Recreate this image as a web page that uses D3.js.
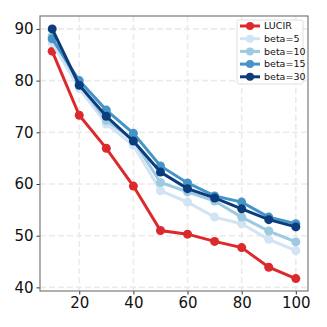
<!DOCTYPE html>
<html>
<head>
<meta charset="utf-8">
<script src="https://cdn.jsdelivr.net/npm/d3@7"></script>
<style>
  body { margin: 0; background: #fff; }
  .tick text { font-family: "DejaVu Sans", sans-serif; }
</style>
</head>
<body>
<div class="chart"></div>
<script>
// data
var steps = [10, 20, 30, 40, 50, 60, 70, 80, 90, 100];
var lucir  = [85.7, 73.3, 66.9, 59.6, 51.0, 50.3, 48.9, 47.7, 43.9, 41.7];
var beta5  = [87.3, 78.5, 71.6, 67.5, 58.7, 56.5, 53.6, 52.3, 49.3, 47.1];
var beta10 = [88.6, 79.3, 72.3, 68.5, 60.3, 58.5, 56.7, 53.6, 50.9, 48.8];
var beta15 = [88.1, 80.0, 74.3, 69.8, 63.5, 60.2, 57.7, 56.5, 53.6, 52.3];
var beta30 = [90.0, 79.1, 73.1, 68.3, 62.3, 59.1, 57.3, 55.2, 53.1, 51.7];
var seriesNames = ["LUCIR", "beta=5", "beta=10", "beta=15", "beta=30"];
var seriesColors = ["#dc2a2c", "#d2e3f3", "#9ccae1", "#4594c8", "#0b3c7c"];
var xTicks = [20, 40, 60, 80, 100];
var yTicks = [40, 50, 60, 70, 80, 90];

var svgWidth = 327, svgHeight = 327;
var margin = {top: 16, right: 19, bottom: 36, left: 40};
var width = svgWidth - margin.left - margin.right;
var height = svgHeight - margin.top - margin.bottom;

var svg = d3.select(".chart").append("svg")
  .attr("width", svgWidth)
  .attr("height", svgHeight);

var chartGroup = svg.append("g")
  .attr("transform", `translate(${margin.left}, ${margin.top})`);

var x = d3.scaleLinear().domain([5.5, 104.5]).range([0, width]);
var y = d3.scaleLinear().domain([39.3, 92.5]).range([height, 0]);

// grid
chartGroup.append("g").selectAll("line").data(xTicks).enter().append("line")
  .attr("x1", d => x(d)).attr("x2", d => x(d))
  .attr("y1", 0).attr("y2", height)
  .attr("stroke", "#ebebeb").attr("stroke-width", 1.6)
  .attr("stroke-dasharray", "6,3");
chartGroup.append("g").selectAll("line").data(yTicks).enter().append("line")
  .attr("y1", d => y(d)).attr("y2", d => y(d))
  .attr("x1", 0).attr("x2", width)
  .attr("stroke", "#ebebeb").attr("stroke-width", 1.6)
  .attr("stroke-dasharray", "6,3");

// axes
var bottomAxis = d3.axisBottom(x).tickValues(xTicks).tickSizeOuter(0).tickSize(3.5).tickPadding(3);
var leftAxis = d3.axisLeft(y).tickValues(yTicks).tickSizeOuter(0).tickSize(3.5).tickPadding(3);

var gx = chartGroup.append("g")
  .attr("transform", `translate(0, ${height})`)
  .call(bottomAxis);
var gy = chartGroup.append("g").call(leftAxis);
[gx, gy].forEach(g => {
  g.select(".domain").remove();
  g.selectAll(".tick line").attr("stroke", "#333");
  g.selectAll(".tick text").attr("font-size", 15).attr("fill", "#111");
});

// frame
chartGroup.append("rect")
  .attr("width", width).attr("height", height)
  .attr("fill", "none").attr("stroke", "#7a7a7a").attr("stroke-width", 1.2);

// lines
var allSeries = [lucir, beta5, beta10, beta15, beta30];
var line = d3.line().x((d, i) => x(steps[i])).y(d => y(d));

allSeries.forEach((vals, k) => {
  var g = chartGroup.append("g");
  g.append("path").datum(vals)
    .attr("d", line)
    .attr("fill", "none")
    .attr("stroke", seriesColors[k])
    .attr("stroke-width", 3);
  g.selectAll("circle").data(vals).enter().append("circle")
    .attr("cx", (d, i) => x(steps[i]))
    .attr("cy", d => y(d))
    .attr("r", 4.5)
    .attr("fill", seriesColors[k]);
});

// legend
var legend = svg.append("g").attr("transform", "translate(237, 20)");
legend.append("rect")
  .attr("width", 66).attr("height", 64).attr("rx", 2)
  .attr("fill", "rgba(255,255,255,0.85)")
  .attr("stroke", "#d8d8d8").attr("stroke-width", 0.8);
seriesNames.forEach((name, k) => {
  var ly = 6 + k * 12.7;
  legend.append("line")
    .attr("x1", 3).attr("x2", 23).attr("y1", ly).attr("y2", ly)
    .attr("stroke", seriesColors[k]).attr("stroke-width", 3);
  legend.append("circle")
    .attr("cx", 13).attr("cy", ly).attr("r", 4)
    .attr("fill", seriesColors[k]);
  legend.append("text")
    .attr("x", 27).attr("y", ly).attr("dy", "0.35em")
    .attr("font-family", "DejaVu Sans, sans-serif")
    .attr("font-size", 9.5).attr("fill", "#111")
    .text(name);
});
</script>
</body>
</html>
